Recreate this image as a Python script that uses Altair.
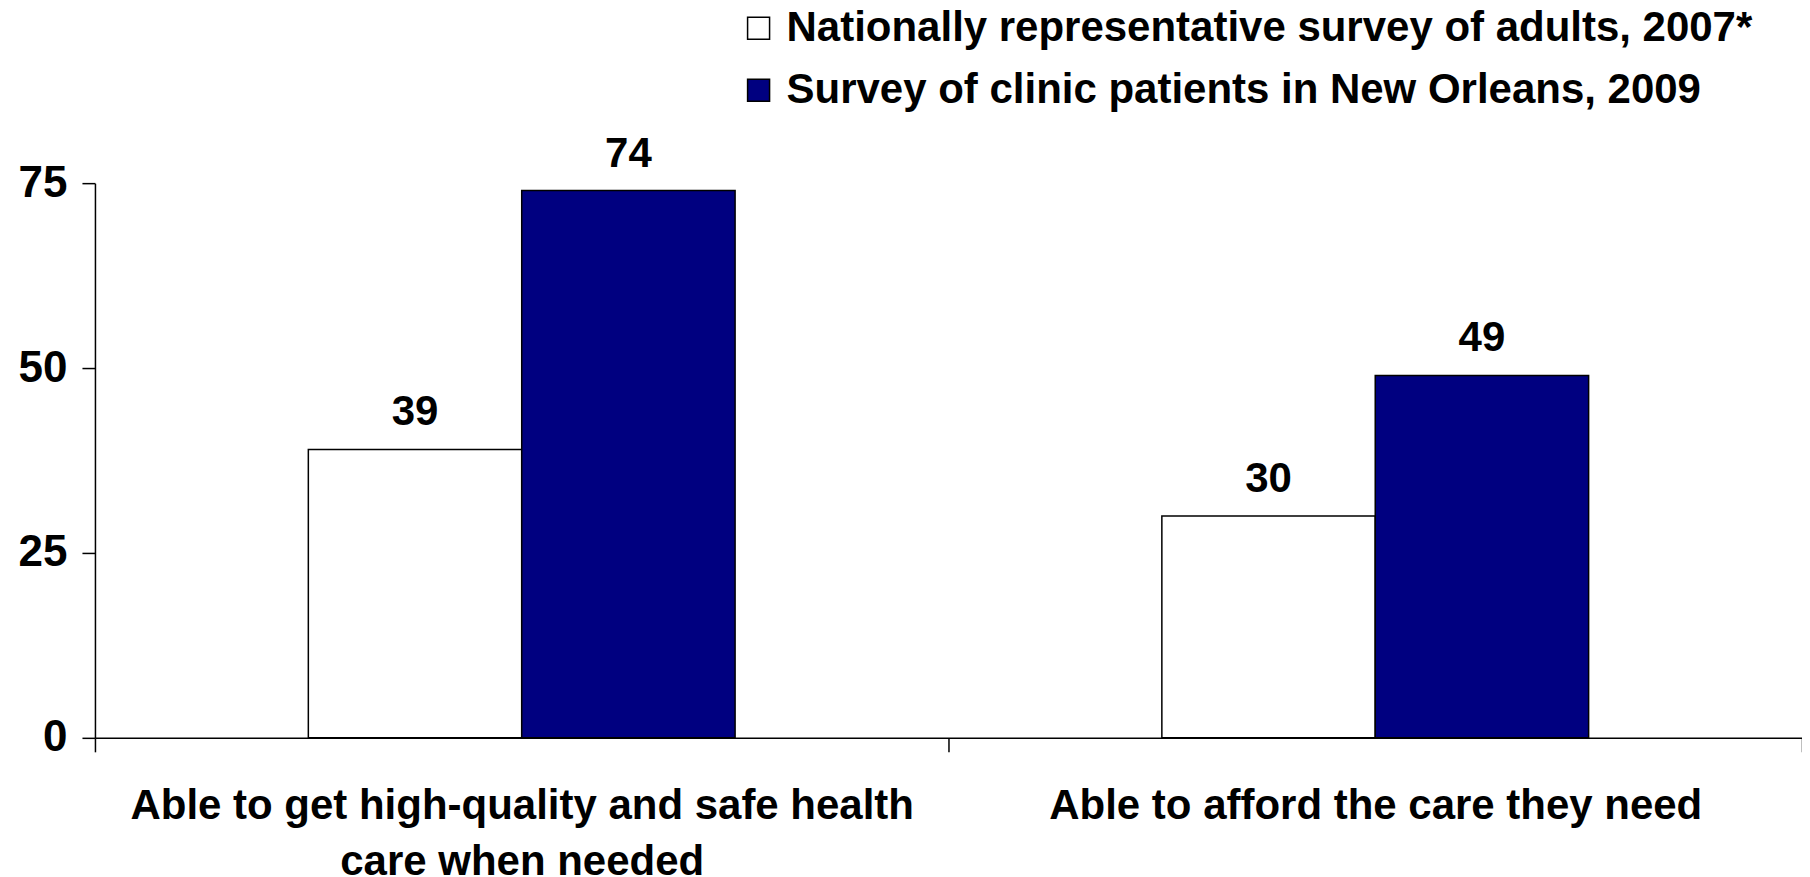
import altair as alt
import pandas as pd

categories = ["Able to get high-quality and safe health\ncare when needed",
              "Able to afford the care they need"]
series = ["Nationally representative survey of adults, 2007*",
          "Survey of clinic patients in New Orleans, 2009"]
national_2007 = [39, 30]
new_orleans_2009 = [74, 49]
y_ticks = [0, 25, 50, 75]
colors = ["#ffffff", "#000080"]

rows = []
for i, c in enumerate(categories):
    rows.append({"category": c, "series": series[0], "value": national_2007[i]})
    rows.append({"category": c, "series": series[1], "value": new_orleans_2009[i]})
df = pd.DataFrame(rows)

FONT = "Liberation Sans"

base = alt.Chart(df).encode(
    x=alt.X("category:N", sort=categories,
            scale=alt.Scale(paddingInner=0, paddingOuter=0),
            axis=alt.Axis(title=None, labelAngle=0, tickBand="extent",
                          labelExpr="split(datum.label, '\\n')",
                          labelFont=FONT, labelFontSize=42, labelFontWeight="bold",
                          labelColor="black", labelLineHeight=56, labelPadding=34,
                          labelLimit=2000, tickSize=14, tickColor="black", tickWidth=1.5,
                          domainColor="black", domainWidth=1.5, labelBaseline="top")),
    xOffset=alt.XOffset("series:N", sort=series,
                        scale=alt.Scale(paddingInner=0, paddingOuter=1)),
    y=alt.Y("value:Q", scale=alt.Scale(domain=[0, 75], nice=False),
            axis=alt.Axis(title=None, values=y_ticks, grid=False,
                          labelFont=FONT, labelFontSize=44, labelFontWeight="bold",
                          labelColor="black", labelPadding=15, tickSize=13,
                          tickColor="black", tickWidth=1.5,
                          domainColor="black", domainWidth=1.5)),
)

bars = base.mark_bar(stroke="black", strokeWidth=1.5).encode(
    color=alt.Color("series:N", sort=series,
                    scale=alt.Scale(domain=series, range=colors),
                    legend=alt.Legend(title=None, orient="none", legendX=643, legendY=-176,
                                      symbolType="square", symbolSize=484,
                                      symbolStrokeColor="black", symbolStrokeWidth=1.5,
                                      labelFont=FONT, labelFontSize=42, labelFontWeight="bold",
                                      labelColor="black", labelOffset=7, rowPadding=20,
                                      labelLimit=2000))
)

labels = base.mark_text(dy=-24, baseline="alphabetic", font=FONT, fontSize=42,
                        fontWeight="bold", color="black").encode(text="value:Q")

chart = (bars + labels).properties(
    width=1708, height=555,
    padding={"left": 87, "top": 175, "right": 0, "bottom": 142},
    autosize="none",
).configure_view(stroke=None)

chart.save("out.html", embed_options={"renderer": "svg", "actions": False})
